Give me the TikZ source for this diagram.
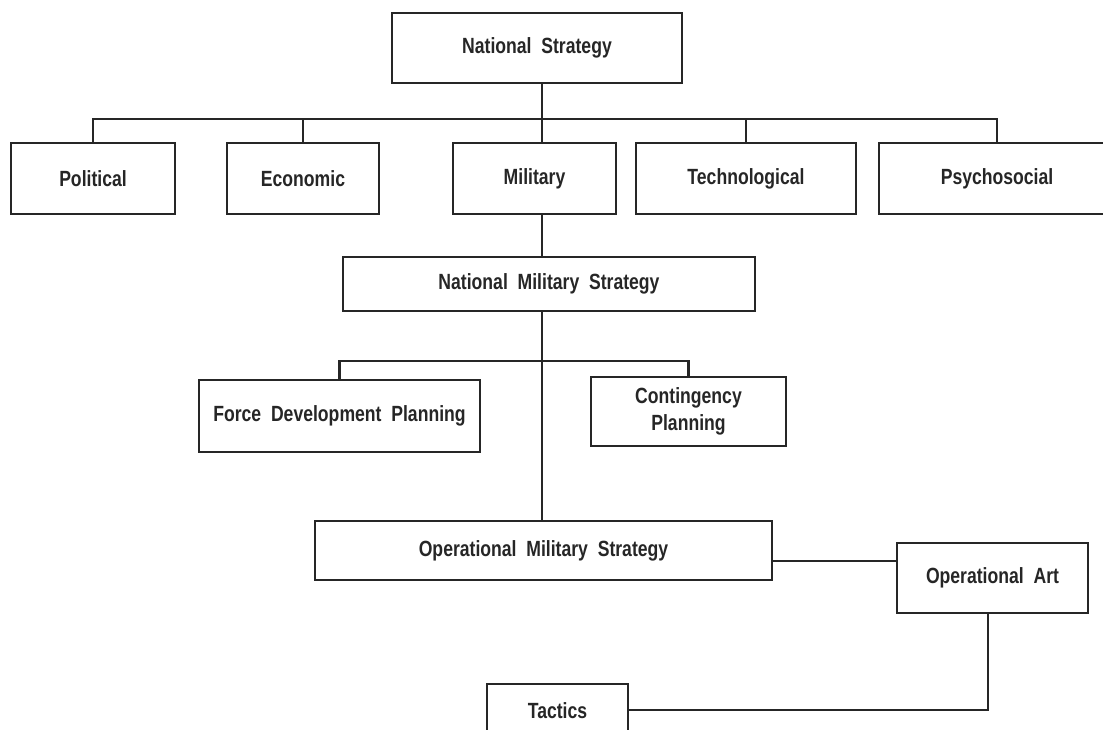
\documentclass[tikz,border=0pt]{standalone}
\usepackage{fontspec}
\setmainfont{Liberation Sans}[FakeStretch=0.8]
\usepackage{tikz}
\usetikzlibrary{positioning}

\begin{document}
\begin{tikzpicture}[x=1pt,y=-1pt,line width=2.8pt,draw=black!85,every node/.style={font=\fontsize{22}{26}\selectfont\bfseries,text=black!85}]
\tikzset{box/.style={draw=black!85,line width=2.8pt,inner sep=0pt,align=center}}
\useasboundingbox (0,0) rectangle (1103,730);
\clip (0,0) rectangle (1103,730);
% top level
\node[box,minimum width=290pt,minimum height=70pt] (ns) at (537,48) {National\ \ Strategy};
\node[box,minimum width=164pt,minimum height=71pt] (pol) at (93,178.5) {Political};
\node[box,minimum width=152pt,minimum height=71pt] (eco) at (303,178.5) {Economic};
\node[box,minimum width=163pt,minimum height=71pt] (mil) at (534.5,178.5) {Military};
\node[box,minimum width=220pt,minimum height=71pt] (tec) at (746,178.5) {Technological};
\node[box,minimum width=236pt,minimum height=71pt] (psy) at (997,178.5) {Psychosocial};
\coordinate (bus) at (542,119);
\draw[black!85] (pol.north) |- (psy.north |- bus) -- (psy.north);
\draw[black!85] (eco.north) -- (eco.north |- bus); \draw[black!85] (tec.north) -- (tec.north |- bus);
\draw[black!85] (ns.south -| bus) -- (mil.north -| bus);
% military strategy
\node[box,minimum width=412pt,minimum height=54pt] (nms) at (549,284) {National\ \ Military\ \ Strategy};
\node[box,minimum width=281pt,minimum height=72pt] (fdp) at (339.5,416) {Force\ \ Development\ \ Planning};
\node[box,minimum width=195pt,minimum height=69pt] (cp) at (688.5,411.5) {Contingency\\[1pt]Planning};
\coordinate (plan) at (542,361);
\draw[black!85] (mil.south -| bus) -- (nms.north -| bus);
\draw[black!85] (fdp.north) |- (cp.north |- plan) -- (cp.north);
% operational level
\node[box,minimum width=457pt,minimum height=59pt] (oms) at (543.5,550.5) {Operational\ \ Military\ \ Strategy};
\node[box,minimum width=191pt,minimum height=70pt] (art) at (992.5,578) {Operational\ \ Art};
\node[box,minimum width=141pt,minimum height=56pt] (tac) at (557.5,712) {\raisebox{2pt}{Tactics}};
\coordinate (oa) at (988,710);
\draw[black!85] (nms.south -| bus) -- (oms.north -| bus);
\draw[black!85] (oms.east |- 0,561) -- (art.west |- 0,561);
\draw[black!85] (art.south -| oa) |- (tac.east |- oa);
\end{tikzpicture}
\end{document}
